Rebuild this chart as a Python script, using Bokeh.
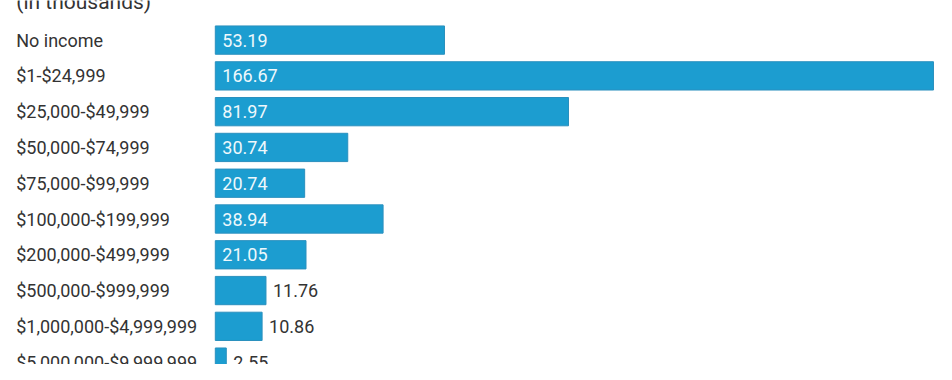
from bokeh.plotting import figure
from bokeh.models import Range1d, ColumnDataSource
from bokeh.core.properties import value
from bokeh.embed import file_html
from bokeh.resources import INLINE

# ---- data ----
title = "(in thousands)"
categories = ["No income", "$1-$24,999", "$25,000-$49,999", "$50,000-$74,999",
              "$75,000-$99,999", "$100,000-$199,999", "$200,000-$499,999",
              "$500,000-$999,999", "$1,000,000-$4,999,999", "$5,000,000-$9,999,999"]
values = [53.19, 166.67, 81.97, 30.74, 20.74, 38.94, 21.05, 11.76, 10.86, 2.55]
value_labels = ["53.19", "166.67", "81.97", "30.74", "20.74", "38.94", "21.05",
                "11.76", "10.86", "2.55"]

W, H = 936, 364
ROW = 35.78         # pixels per row
X0 = 214.8          # pixel of value 0
SCALE = 4.309       # pixels per unit
TOP = 39.6 / ROW    # first row centre (data y=0) is 39.6 px below the top

BLUE = "#1c9dd0"
FONT = value("Roboto")

p = figure(width=W, height=H, output_backend="svg", toolbar_location=None,
           x_range=Range1d(-X0 / SCALE, -X0 / SCALE + W / SCALE),
           y_range=Range1d(TOP - H / ROW, TOP),
           min_border=0, background_fill_color="white", border_fill_color="white",
           outline_line_color=None)
p.axis.visible = False
p.grid.visible = False

ys = [-i for i in range(len(categories))]
inside = [v > 15 for v in values]
src = ColumnDataSource(dict(y=ys, v=values, cat=categories, lab=value_labels,
                            zero=[0] * len(values)))

p.hbar(y="y", left=0, right="v", height=28.3 / ROW, source=src,
       fill_color=BLUE, line_color="#2a90be", line_width=1)

p.text(x="zero", y="y", text="cat", source=src, x_offset=15.7 - X0,
       text_align="left", text_baseline="middle", text_font=FONT,
       text_font_size="18px", text_color="#333333")

in_src = ColumnDataSource(dict(
    x=[0 for v, k in zip(values, inside) if k],
    y=[y for y, k in zip(ys, inside) if k],
    t=[l for l, k in zip(value_labels, inside) if k]))
out_src = ColumnDataSource(dict(
    x=[v for v, k in zip(values, inside) if not k],
    y=[y for y, k in zip(ys, inside) if not k],
    t=[l for l, k in zip(value_labels, inside) if not k]))

p.text(x="x", y="y", text="t", source=in_src, x_offset=7,
       text_align="left", text_baseline="middle", text_font=FONT,
       text_font_size="18px", text_color="#eef8fc")
p.text(x="x", y="y", text="t", source=out_src, x_offset=7,
       text_align="left", text_baseline="middle", text_font=FONT,
       text_font_size="18px", text_color="#333333")

# partially visible title at the very top (y=TOP is the top edge)
p.text(x=[0], y=[TOP], text=[title], x_offset=15.7 - X0, y_offset=1,
       text_align="left", text_baseline="alphabetic", text_font=FONT,
       text_font_size="21px", text_color="#333333")

open("out.html", "w").write(file_html(p, INLINE))
